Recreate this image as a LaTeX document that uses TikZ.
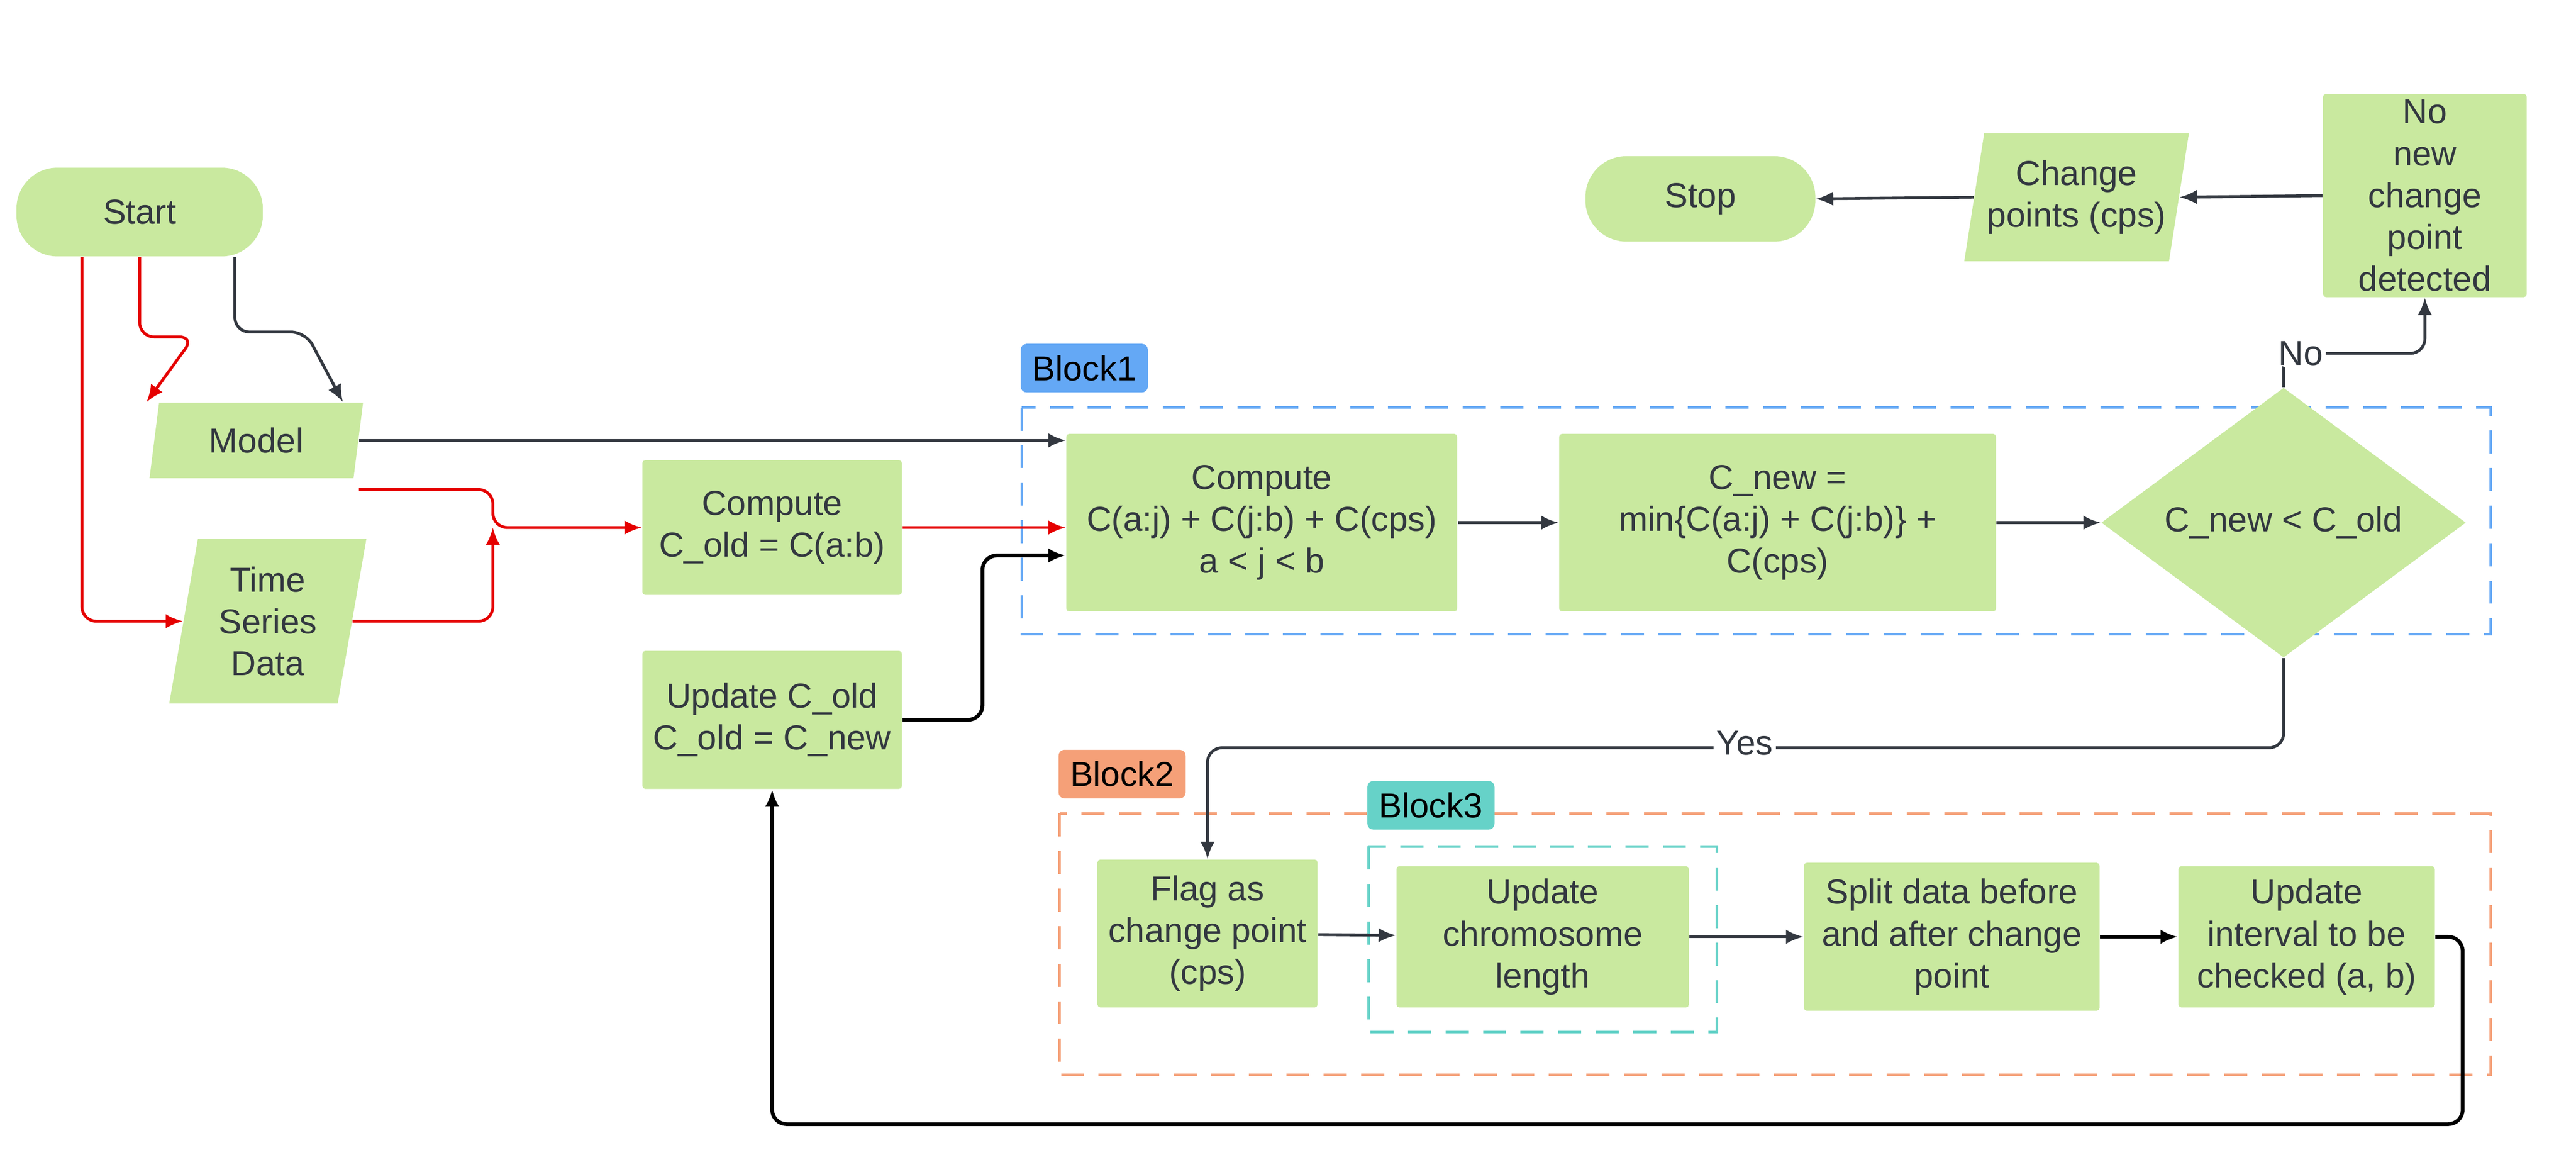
\documentclass[tikz,border=0pt]{standalone}
\usepackage{fontspec}
\setmainfont{Liberation Sans}
\usetikzlibrary{positioning,shapes.geometric,arrows.meta}
\definecolor{stepgreen}{RGB}{201,233,159}
\definecolor{txtgray}{RGB}{51,56,64}
\definecolor{blockblue}{RGB}{100,168,245}
\definecolor{blockorange}{RGB}{245,160,120}
\definecolor{blockteal}{RGB}{102,210,200}
\tikzset{
  flowpic/.style={x=0.02cm,y=-0.02cm
    ,font=\fontsize{12}{14.5}\selectfont\color{txtgray}
  }
  ,process/.style={rectangle,fill=stepgreen,align=center,inner sep=2pt,rounded corners=1pt}
  ,term/.style={process,rounded corners=0.5cm}
  ,io/.style={trapezium,trapezium left angle=73,trapezium right angle=107
    ,trapezium stretches body,fill=stepgreen,align=center,inner sep=1pt}
  ,test/.style={diamond,fill=stepgreen,align=center,inner sep=0pt}
  ,zone/.style={rectangle,dashed,dash pattern=on 8pt off 5pt,line width=0.9pt}
  ,zonetag/.style={rectangle,rounded corners=2pt,inner sep=4pt,text=black}
  ,flow/.style={-{Latex[length=6pt,width=5pt]},line width=1pt,rounded corners=5pt,draw=txtgray}
  ,redflow/.style={flow,draw=red!90!black,color=red!90!black}
  ,backflow/.style={flow,draw=black,line width=1.3pt}
}
\begin{document}
\begin{tikzpicture}[flowpic]
  \useasboundingbox (0,0) rectangle (1568,713);
  % terminals and inputs
  \node[term,minimum width=3cm,minimum height=1.08cm] (start) at (85,129) {Start};
  \node[term,minimum width=2.8cm,minimum height=1.04cm] (stop) at (1035,121) {Stop};
  \node[io,minimum width=2.6cm,minimum height=0.92cm] (model) at (156,268) {Model};
  \node[io,minimum width=2.4cm,minimum height=2cm,trapezium left angle=76,trapezium right angle=104] (tsdata) at (163,378) {Time\\Series\\Data};
  \node[io,minimum width=2.6cm,minimum height=1.56cm,trapezium left angle=76,trapezium right angle=104] (cps) at (1264,120) {Change\\points (cps)};
  \node[process,minimum width=2.48cm,minimum height=2.36cm] (nonew) at (1476,119) {No\\new\\change\\point\\detected};
  % cost steps
  \node[process,minimum width=3.16cm,minimum height=1.64cm] (cold) at (470,321) {Compute\\C\_old = C(a:b)};
  \node[process,minimum width=3.16cm,minimum height=1.68cm] (upold) at (470,438) {Update C\_old\\C\_old = C\_new};
  % block1
  \draw[zone,draw=blockblue] (622,248) rectangle (1516,386);
  \node[zonetag,fill=blockblue] (tag1) at (660,224) {Block1};
  \node[process,minimum width=4.76cm,minimum height=2.16cm] (cfull) at (768,318) {Compute\\C(a:j) + C(j:b) + C(cps)\\a < j < b};
  \node[process,minimum width=5.32cm,minimum height=2.16cm] (cnew) at (1082,318) {C\_new =\\min\{C(a:j) + C(j:b)\} +\\C(cps)};
  \node[test,minimum width=4.44cm,minimum height=2.6cm] (check) at (1390,318) {C\_new < C\_old};
  % block2 and block3
  \draw[zone,draw=blockorange] (645,495) rectangle (1516,654);
  \node[zonetag,fill=blockorange] (tag2) at (683,471) {Block2};
  \draw[zone,draw=blockteal] (833,515) rectangle (1045,628);
  \node[zonetag,fill=blockteal] (tag3) at (871,490) {Block3};
  \node[process,minimum width=2.68cm,minimum height=1.8cm] (flag) at (735,568) {Flag as\\change point\\(cps)};
  \node[process,minimum width=3.56cm,minimum height=1.72cm] (chrom) at (939,570) {Update\\chromosome\\length};
  \node[process,minimum width=3.6cm,minimum height=1.8cm] (split) at (1188,570) {Split data before\\and after change\\point};
  \node[process,minimum width=3.12cm,minimum height=1.72cm] (interval) at (1404,570) {Update\\interval to be\\checked (a, b)};
  % connectors
  \draw[redflow] ([xshift=-20]start.south) |- (tsdata.west);
  \draw[redflow] (start.south) |- (118,205) -- ([xshift=-38]model.north);
  \draw[flow] ([xshift=33]start.south) |- (186,202) -- ([xshift=30]model.north);
  \draw[flow] (model.east) -- (cfull.west |- model.east);
  \draw[redflow] ([yshift=-17]model.east) -| (300,321) -- (cold.west);
  \draw[redflow] (tsdata.east) -| (300,321);
  \draw[redflow] (cold.east) -- (cfull.west |- cold.east);
  \draw[backflow] (upold.east) -| (598,338) -- (cfull.west |- 0,338);
  \draw[flow] (cfull) -- (cnew);
  \draw[flow] (cnew) -- (check);
  \draw[flow] (check.north) |- (1476,215) -- (nonew.south) node[pos=0,xshift=-43,fill=white,inner sep=1pt] (nolbl) {No};
  \draw[flow] (nonew.west) -- (cps.east);
  \draw[flow] (cps.west) -- (stop.east);
  \draw[flow] (check.south) |- (735,455) -- (flag.north);
  \node[fill=white,inner sep=1pt] (yeslbl) at (1062,452) {Yes};
  \draw[flow] (flag) -- (chrom);
  \draw[flow] (chrom.east) -- (split.west);
  \draw[backflow] (split) -- (interval);
  \draw[backflow] (interval.east) -| (1499,684) -| (upold.south);
\end{tikzpicture}
\end{document}
